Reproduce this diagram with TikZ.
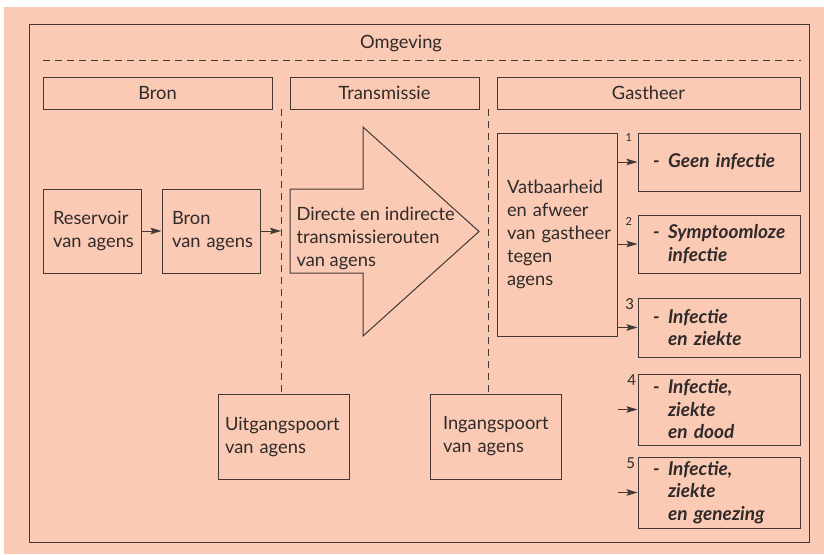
\documentclass[tikz,border=0pt]{standalone}
\usepackage{fontspec}
\setmainfont{Lato}
\usetikzlibrary{arrows.meta}
\definecolor{zalm}{RGB}{250,202,181}
\definecolor{lijn}{RGB}{66,56,53}
\definecolor{tekst}{RGB}{48,42,42}
\newcommand{\streep}{\makebox[15pt][l]{-}}
\newcommand{\inspring}{\hspace*{15pt}}
\begin{document}
\begin{tikzpicture}[x=1pt, y=-1pt, line width=1pt, draw=lijn, text=tekst,
    font=\fontsize{18.3}{23}\selectfont,
    vak/.style={rectangle, draw, align=left, inner xsep=10pt, inner ysep=0pt},
    kop/.style={rectangle, draw, minimum height=32, inner sep=0pt},
    uitkomst/.style={rectangle, draw, align=left, text width=132pt, inner xsep=15pt,
      inner ysep=0pt, font=\fontsize{19}{22.5}\selectfont\bfseries\itshape},
    nummer/.style={anchor=north east, inner sep=1pt},
    streepjes/.style={dash pattern=on 7pt off 5pt},
    pijl/.style={-{Stealth[length=11pt,width=6.5pt,inset=2pt]}}]
  \useasboundingbox (0,0) rectangle (824,554);
  \fill[zalm] (4,7) rectangle (824,554);
  \draw (29,24) rectangle (809,542);
  \node (omgeving) at (401,43) {Omgeving};
  \draw[streepjes] (43,60) -- (801,60);
  % kopjes
  \node[kop, minimum width=229] (bron) at (157.5,93) {Bron};
  \node[kop, minimum width=189] (trans) at (384.5,93) {Transmissie};
  \node[kop, minimum width=303] (gast) at (648.5,93) {Gastheer};
  % bron
  \node[vak, text width=78pt, minimum height=84] (res) at (92,231) {Reservoir\\van~agens};
  \node[vak, text width=78pt, minimum height=84] (bronag) at (211,231) {Bron\\van~agens};
  % transmissie
  \draw (290,189) -- (363,189) -- (363,127) -- (479,231.5) -- (363,336) -- (363,273)
    -- (290,273) -- cycle;
  \node[align=left, anchor=west, inner sep=0pt] (routen) at (296,238)
    {Directe en indirecte\\transmissierouten\\van agens};
  \node[vak, text width=117pt, inner xsep=7pt, minimum height=85] (uit) at (283.5,436.5)
    {Uitgangspoort\\van~agens};
  \node[vak, text width=105pt, inner xsep=13pt, minimum height=85] (ing) at (495.5,436.5)
    {Ingangspoort\\van~agens};
  \coordinate (d1) at (281,109);
  \coordinate (d2) at (488,109);
  \draw[streepjes] (d1) -- (d1 |- uit.north);
  \draw[streepjes] (d2) -- (d2 |- ing.north);
  % gastheer
  \node[vak, text width=100pt, minimum height=203] (vat) at (557,234.5)
    {Vatbaarheid\\en~afweer\\\mbox{van gastheer}\\tegen\\agens};
  \node[uitkomst, minimum height=58] (u1) at (719,162) {\streep Geen~infectie};
  \node[uitkomst, minimum height=58] (u2) at (719,244) {\streep Symptoomloze\\\inspring infectie};
  \node[uitkomst, minimum height=59] (u3) at (719,327.5) {\streep Infectie\\\inspring en~ziekte};
  \node[uitkomst, minimum height=71] (u4) at (719,409.5) {\streep Infectie,\\\inspring ziekte\\\inspring en~dood};
  \node[uitkomst, minimum height=71] (u5) at (719,492.5) {\streep Infectie,\\\inspring ziekte\\\inspring en~genezing};
  \node[nummer, font=\fontsize{11}{11}\selectfont] (n1) at ([xshift=-4pt]u1.north west) {1};
  \node[nummer, font=\fontsize{11}{11}\selectfont] (n2) at ([xshift=-4pt, yshift=-2pt]u2.north west) {2};
  \node[nummer, font=\fontsize{15}{15}\selectfont] (n3) at ([xshift=-2pt]u3.north west) {3};
  \node[nummer, font=\fontsize{15}{15}\selectfont] (n4) at ([xshift=0pt]u4.north west) {4};
  \node[nummer, font=\fontsize{15}{15}\selectfont] (n5) at ([xshift=-1pt]u5.north west) {5};
  % pijlen
  \draw[pijl] (res) -- (bronag);
  \draw[pijl] (bronag) -- (d1 |- bronag);
  \draw[pijl] (u1.west -| vat.east) -- (u1.west);
  \draw[pijl] (u2.west -| vat.east) -- (u2.west);
  \draw[pijl] (u3.west -| vat.east) -- (u3.west);
  \draw[pijl] (u4.west -| vat.east) -- (u4.west);
  \draw[pijl] (u5.west -| vat.east) -- (u5.west);
\end{tikzpicture}
\end{document}
